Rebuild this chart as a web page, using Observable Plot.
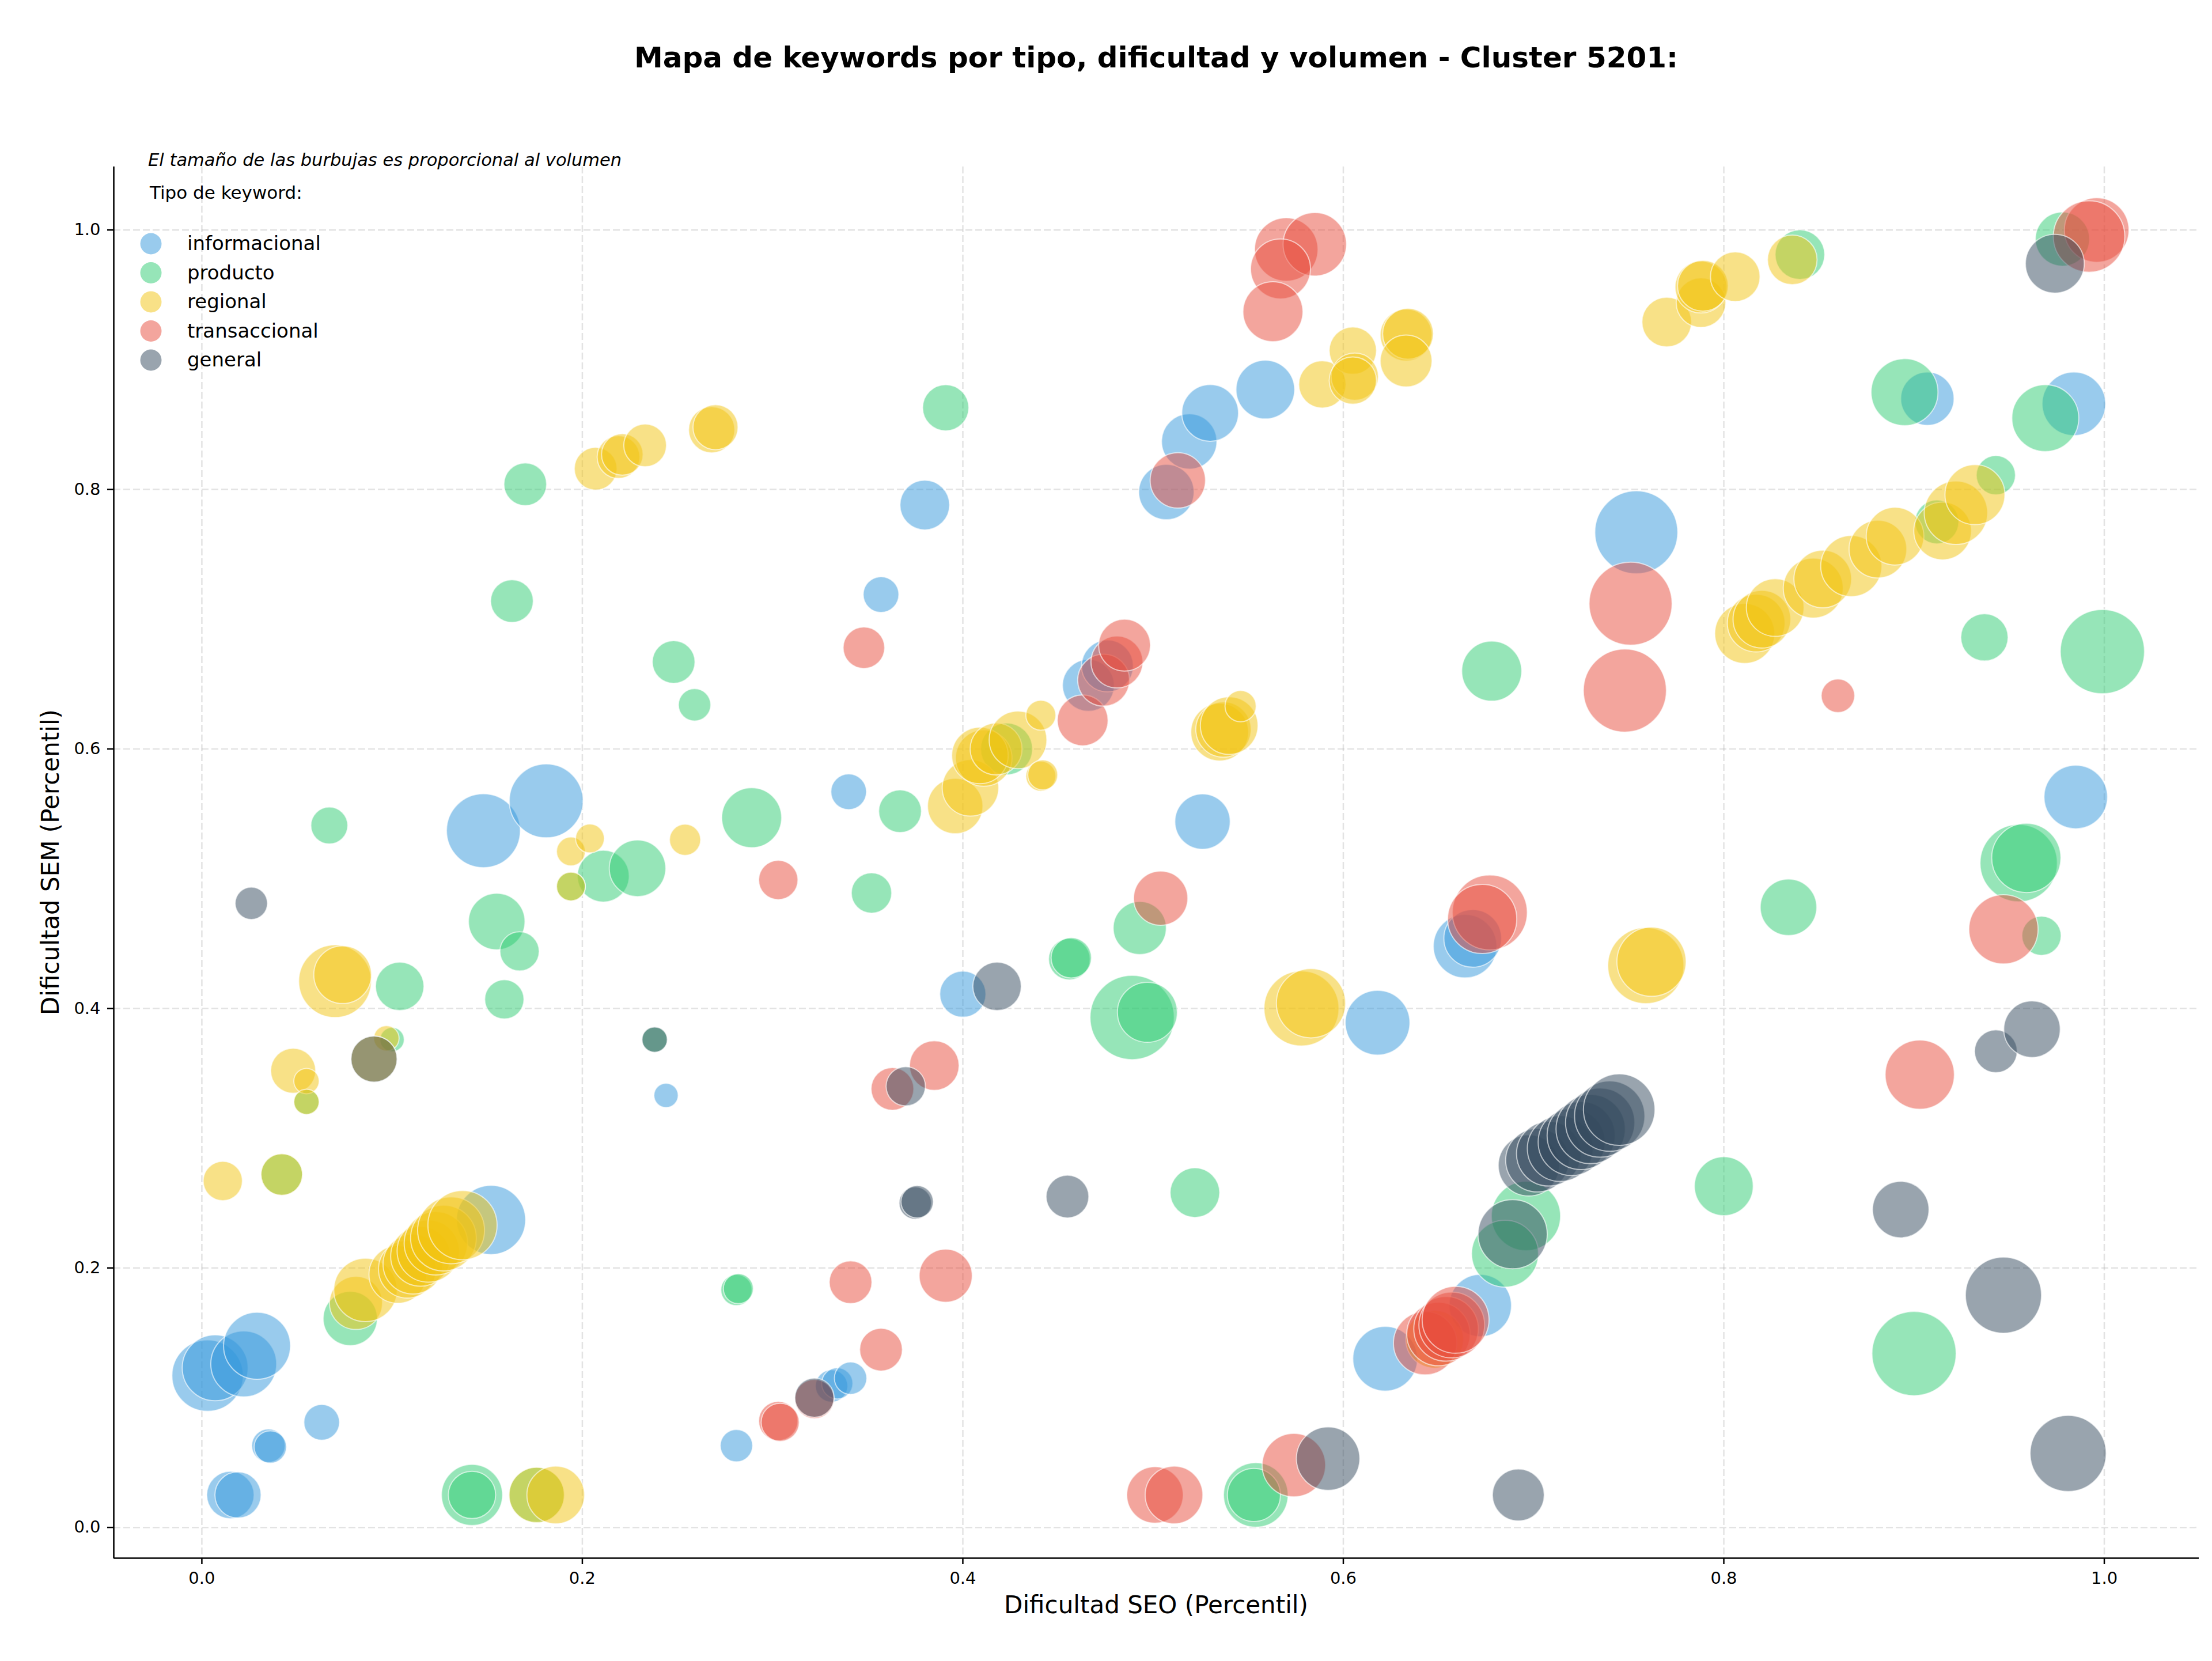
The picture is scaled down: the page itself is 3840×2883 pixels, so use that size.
<!DOCTYPE html>
<html>
<head>
<meta charset="utf-8">
<script src="https://cdn.jsdelivr.net/npm/d3@7"></script>
<script src="https://cdn.jsdelivr.net/npm/@observablehq/plot@0.6"></script>
<style>
  html, body { margin: 0; padding: 0; background: #ffffff; }
  #chart { width: 3840px; height: 2883px; }
</style>
</head>
<body>
<div id="chart"></div>
<script>
// ---------- DATA ----------
const types = ["informacional", "producto", "regional", "transaccional", "general"];
const colors = ["#3498db", "#2ecc71", "#f1c40f", "#e74c3c", "#34495e"];
const xTicks = [0.0, 0.2, 0.4, 0.6, 0.8, 1.0];
const yTicks = [0.0, 0.2, 0.4, 0.6, 0.8, 1.0];

const infoSEO = [0.003,0.007,0.022,0.029,0.015,0.019,0.035,0.036,0.063,0.148,0.181,0.152,0.244,0.281,0.331,0.334,0.341,0.340,0.357,0.380,0.400,0.466,0.476,0.507,0.519,0.530,0.559,0.526,0.618,0.664,0.668,0.672,0.622,0.754,0.907,0.984,0.985];
const infoSEM = [0.117,0.123,0.126,0.140,0.025,0.025,0.063,0.062,0.081,0.537,0.560,0.237,0.333,0.063,0.109,0.111,0.115,0.567,0.719,0.788,0.411,0.649,0.664,0.798,0.837,0.859,0.877,0.544,0.389,0.448,0.454,0.171,0.130,0.767,0.870,0.866,0.563];
const infoVol = [6800,5800,5800,6000,3000,2850,1500,1400,1700,7300,7300,6400,790,1400,1400,1300,1400,1700,1700,3300,2850,3600,3600,4100,4100,4300,4600,4100,5600,5400,4450,5200,5600,9200,3800,5400,5400];

const prodSEO = [0.170,0.163,0.067,0.104,0.155,0.167,0.159,0.100,0.211,0.229,0.248,0.259,0.289,0.391,0.367,0.352,0.281,0.282,0.078,0.142,0.142,0.456,0.457,0.493,0.489,0.497,0.522,0.554,0.553,0.678,0.696,0.685,0.800,0.834,0.840,0.895,0.937,0.943,0.969,0.978,0.999,0.955,0.959,0.967,0.900,0.912,0.423,0.055,0.042,0.176,0.194,0.238];
const prodSEM = [0.804,0.714,0.541,0.417,0.467,0.444,0.407,0.376,0.502,0.508,0.667,0.634,0.547,0.863,0.552,0.489,0.183,0.184,0.161,0.025,0.025,0.438,0.439,0.462,0.393,0.397,0.258,0.025,0.025,0.660,0.240,0.211,0.263,0.478,0.981,0.875,0.686,0.811,0.855,0.993,0.675,0.512,0.516,0.456,0.134,0.775,0.600,0.328,0.272,0.025,0.494,0.376];
const prodVol = [2440,2440,1820,3140,4270,2060,2060,790,3600,4270,2440,1400,4810,2850,2440,2180,1300,1200,3930,5000,2990,2310,2180,3770,9490,4810,3290,5580,3770,4810,6410,5990,4630,4270,3290,5990,2990,2060,5990,3930,9490,7990,6410,2060,9490,2570,3600,860,2310,4100,1110,860];

const regSEO = [0.011,0.042,0.048,0.055,0.055,0.070,0.074,0.097,0.0905,0.081,0.086,0.103,0.108,0.111,0.115,0.119,0.123,0.127,0.131,0.137,0.194,0.204,0.194,0.207,0.219,0.221,0.233,0.268,0.270,0.254,0.176,0.186,0.396,0.404,0.411,0.409,0.4175,0.429,0.441,0.441,0.442,0.535,0.537,0.540,0.546,0.578,0.583,0.589,0.605,0.606,0.605,0.633,0.634,0.633,0.759,0.762,0.770,0.788,0.788,0.789,0.806,0.836,0.811,0.817,0.820,0.827,0.847,0.852,0.867,0.881,0.890,0.915,0.922,0.932,0.648];
const regSEM = [0.267,0.272,0.352,0.344,0.328,0.421,0.426,0.377,0.361,0.173,0.183,0.195,0.199,0.203,0.209,0.213,0.219,0.223,0.229,0.233,0.521,0.531,0.494,0.816,0.825,0.827,0.834,0.846,0.848,0.530,0.025,0.025,0.556,0.570,0.593,0.595,0.600,0.607,0.626,0.579,0.580,0.613,0.615,0.618,0.633,0.400,0.404,0.881,0.907,0.887,0.884,0.919,0.920,0.899,0.433,0.436,0.929,0.944,0.956,0.957,0.964,0.977,0.689,0.697,0.700,0.709,0.724,0.731,0.741,0.754,0.764,0.768,0.782,0.796,0.145];
const regVol = [2060,2310,2710,860,860,7060,4450,860,2850,3770,5380,4450,4450,4810,4810,5190,5380,5780,5990,6410,1110,1110,1110,2440,2440,2310,2440,2850,2710,1300,4100,4450,4100,4270,4270,4270,3600,4450,1200,1200,1200,4450,4100,4450,1300,7520,6410,2990,2990,2990,2990,3600,3450,3600,7750,6410,3290,3290,3600,3450,3290,3290,4810,4450,4450,4450,4810,4450,5000,4450,4450,4450,5380,4810,4450];

const tranSEO = [0.570,0.585,0.567,0.563,0.513,0.348,0.303,0.463,0.474,0.481,0.485,0.504,0.385,0.363,0.341,0.391,0.357,0.303,0.304,0.322,0.501,0.511,0.574,0.643,0.650,0.654,0.657,0.659,0.677,0.673,0.751,0.748,0.860,0.947,0.903,0.996,0.992];
const tranSEM = [0.985,0.989,0.970,0.937,0.807,0.678,0.499,0.622,0.653,0.667,0.680,0.485,0.356,0.338,0.189,0.194,0.137,0.082,0.081,0.099,0.025,0.025,0.048,0.142,0.149,0.153,0.156,0.160,0.474,0.469,0.712,0.645,0.641,0.461,0.349,1.000,0.995];
const tranVol = [5380,5380,4810,4810,4100,2310,2060,3450,3600,3600,3600,3930,3290,2440,2440,3770,2440,2060,1940,2060,4270,4450,5380,5380,5380,5580,5780,5990,7520,6410,9230,9230,1500,6410,6410,5580,6840];

const genSEO = [0.026,0.0905,0.238,0.375,0.376,0.370,0.418,0.455,0.322,0.592,0.692,0.689,0.6975,0.702,0.708,0.714,0.720,0.725,0.730,0.735,0.740,0.745,0.974,0.943,0.962,0.893,0.947,0.981];
const genSEM = [0.481,0.361,0.376,0.250,0.251,0.340,0.417,0.255,0.100,0.053,0.025,0.226,0.279,0.283,0.288,0.292,0.297,0.302,0.307,0.312,0.317,0.322,0.974,0.367,0.384,0.245,0.179,0.057];
const genVol = [1400,2850,860,1400,1400,2060,3140,2440,2060,5380,3600,6410,5000,5380,5580,5780,5990,6200,6410,6410,6620,6840,4630,2440,4270,4270,7750,7750];

// ---------- TABLE ----------
const series = [
  [types[0], infoSEO, infoSEM, infoVol],
  [types[1], prodSEO, prodSEM, prodVol],
  [types[2], regSEO, regSEM, regVol],
  [types[3], tranSEO, tranSEM, tranVol],
  [types[4], genSEO, genSEM, genVol]
];
const data = [];
for (const [type, xs, ys, vs] of series) {
  xs.forEach((x, i) => data.push({type, seo: x, sem: ys[i], vol: vs[i]}));
}

const xDomain = [-0.0463, 1.0498];
const yDomain = [-0.0237, 1.0487];
const W = 3840, H = 2883;
const mL = 197, mR = 23, mT = 289, mB = 179;
const fmt = d3.format(".1f");

const chart = Plot.plot({
  width: W,
  height: H,
  marginLeft: mL,
  marginRight: mR,
  marginTop: mT,
  marginBottom: mB,
  style: {fontFamily: "'DejaVu Sans', sans-serif", fontSize: "29px", background: "#ffffff", color: "#000000", overflow: "visible"},
  x: {domain: xDomain},
  y: {domain: yDomain},
  r: {type: "sqrt", domain: [0, 10000], range: [0, 75]},
  color: {domain: types, range: colors},
  marks: [
    Plot.gridX(xTicks, {stroke: "#b0b0b0", strokeOpacity: 0.35, strokeWidth: 2.5, strokeDasharray: "12,5"}),
    Plot.gridY(yTicks, {stroke: "#b0b0b0", strokeOpacity: 0.35, strokeWidth: 2.5, strokeDasharray: "12,5"}),
    Plot.dot(data, {x: "seo", y: "sem", r: "vol", fill: "type", fillOpacity: 0.5, stroke: "#ffffff", strokeOpacity: 0.6, strokeWidth: 2, sort: null}),
    Plot.ruleX([xDomain[0]], {stroke: "#000000", strokeWidth: 2.6}),
    Plot.ruleY([yDomain[0]], {stroke: "#000000", strokeWidth: 2.6}),
    Plot.axisX(xTicks, {tickSize: 11, tickPadding: 13, tickFormat: fmt, label: null, fontSize: 29, strokeWidth: 2.5}),
    Plot.axisY(yTicks, {tickSize: 11, tickPadding: 12, tickFormat: fmt, label: null, fontSize: 29, strokeWidth: 2.5})
  ]
});

document.getElementById("chart").appendChild(chart);

// ---------- TEXT & LEGEND ----------
const svg = d3.select(chart);
const cx = (mL + (W - mR)) / 2;
const cy = (mT + (H - mB)) / 2;
const FF = "'DejaVu Sans', sans-serif";

svg.append("text")
  .attr("x", cx).attr("y", 117)
  .attr("text-anchor", "middle")
  .attr("font-family", FF)
  .attr("font-size", 50).attr("font-weight", "bold")
  .attr("fill", "#000")
  .text("Mapa de keywords por tipo, dificultad y volumen - Cluster 5201:");

svg.append("text")
  .attr("x", 257).attr("y", 288)
  .attr("text-anchor", "start")
  .attr("font-family", FF)
  .attr("font-size", 30.5).attr("font-style", "italic")
  .attr("fill", "#000")
  .text("El tamaño de las burbujas es proporcional al volumen");

svg.append("text")
  .attr("x", 260).attr("y", 345)
  .attr("text-anchor", "start")
  .attr("font-family", FF)
  .attr("font-size", 31)
  .attr("fill", "#000")
  .text("Tipo de keyword:");

types.forEach((t, i) => {
  const y = 423 + i * 50.5;
  svg.append("circle")
    .attr("cx", 262).attr("cy", y).attr("r", 18.5)
    .attr("fill", colors[i]).attr("fill-opacity", 0.5);
  svg.append("text")
    .attr("x", 325).attr("y", y + 11)
    .attr("text-anchor", "start")
    .attr("font-family", FF)
    .attr("font-size", 34)
    .attr("fill", "#000")
    .text(t);
});

svg.append("text")
  .attr("x", cx).attr("y", 2800)
  .attr("text-anchor", "middle")
  .attr("font-family", FF)
  .attr("font-size", 42)
  .attr("fill", "#000")
  .text("Dificultad SEO (Percentil)");

svg.append("text")
  .attr("transform", `translate(102,${cy}) rotate(-90)`)
  .attr("text-anchor", "middle")
  .attr("font-family", FF)
  .attr("font-size", 42)
  .attr("fill", "#000")
  .text("Dificultad SEM (Percentil)");
</script>
</body>
</html>
